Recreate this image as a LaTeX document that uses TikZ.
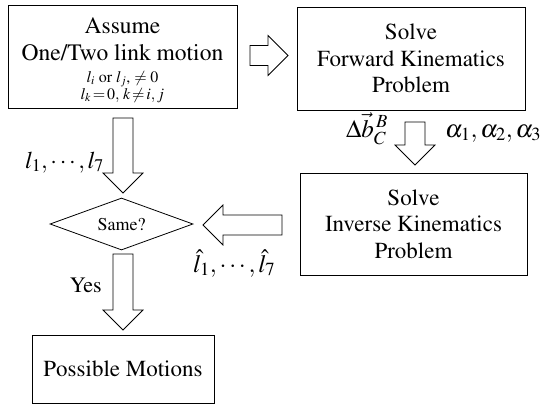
\documentclass[tikz,border=0pt]{standalone}
\usepackage{mathptmx}
\newcommand\tms{\fontencoding{OT1}\fontfamily{ptm}\selectfont}
\usetikzlibrary{shapes.geometric}
\tikzset{
  box/.style={draw, line width=0.8pt, inner sep=0pt, align=center, font=\tms\fontsize{23}{26.5}\selectfont},
  txt/.style={inner sep=0pt, anchor=base, font=\tms\fontsize{23.5}{27}\selectfont},
  smalltxt/.style={inner sep=0pt, anchor=base, font=\tms\fontsize{16}{18}\selectfont},
  blk/.style={draw, line width=0.8pt, fill=white, line join=miter},
  lbl/.style={inner sep=0pt, font=\tms\fontsize{25}{28}\selectfont},
  decision/.style={draw, line width=0.8pt, diamond, aspect=2.75, inner sep=0pt, font=\tms\fontsize{18}{21}\selectfont},
}
\newcommand\blockarr[4]{\draw[blk, shift={(#1,#2)}, rotate=#3] (0,-10) -- ({#4-20},-10) -- ({#4-20},-20) -- (#4,0) -- ({#4-20},20) -- ({#4-20},10) -- (0,10) -- cycle;}
\begin{document}
\begin{tikzpicture}[x=1pt,y=-1pt]
\useasboundingbox (0,0) rectangle (545,405);
% box 1
\node[box, minimum width=229pt, minimum height=103pt] (assume) at (122.5,56.5) {};
\node[txt] (a1) at (122.5,33) {Assume};
\node[txt] (a2) at (122.5,60) {One/Two link motion};
\node[smalltxt] (a3) at (122.5,82) {$l_i$ or $l_j$, $\neq 0$};
\node[smalltxt] (a4) at (122.5,99) {$l_k\!=\!0,\,k\!\neq\!i,j$};
% box 2
\node[box, minimum width=228pt, minimum height=103pt] (fwd) at (411,58.5) {Solve\\Forward Kinematics\\Problem};
% box 3
\node[box, minimum width=227pt, minimum height=102pt] (inv) at (413.5,224) {Solve\\Inverse Kinematics\\Problem};
% diamond
\node[decision, minimum width=143pt, minimum height=52pt] (same) at (121.5,224) {Same?};
% box 4
\node[box, minimum width=182pt, minimum height=68pt] (poss) at (123,369) {Possible Motions};
% block arrows
\blockarr{250}{55.5}{0}{38}
\blockarr{123}{118}{-90}{75}
\blockarr{415}{122}{-90}{43}
\blockarr{282}{225}{180}{79}
\blockarr{123}{254}{-90}{76}
% labels
\node[lbl, anchor=base east, font=\tms\fontsize{24}{28}\selectfont] (ll) at (104,168) {$l_1,\cdots,l_7$};
\node[lbl, anchor=base west] (lh) at (193,272) {$\hat{l}_1,\cdots,\hat{l}_7$};
\node[lbl, anchor=base east] (db) at (388,137) {$\Delta\vec{b}_C^{\,B}$};
\node[lbl, anchor=base west] (al) at (445,137) {$\alpha_1,\alpha_2,\alpha_3$};
\node[lbl, anchor=base east, font=\tms\fontsize{22}{26}\selectfont] (yes) at (102,292) {Yes};
\end{tikzpicture}
\end{document}
